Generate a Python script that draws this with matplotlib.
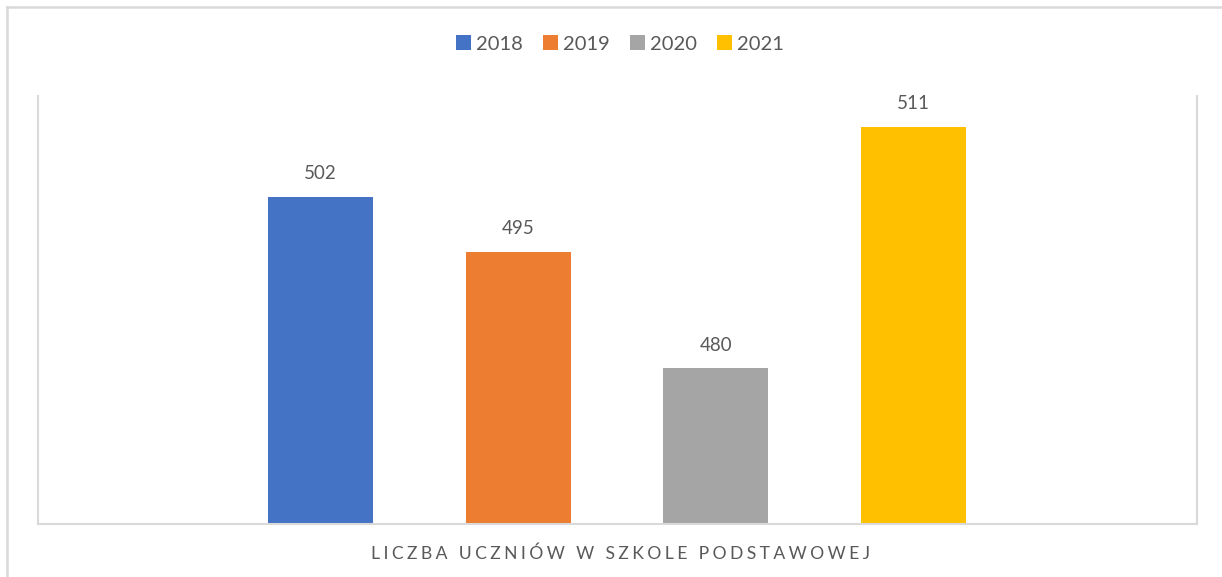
import numpy as np
import matplotlib.pyplot as plt
from matplotlib.lines import Line2D
from matplotlib.patches import Patch

years = ['2018', '2019', '2020', '2021']
students = [502, 495, 480, 511]
colors = ['#4472C4', '#ED7D31', '#A5A5A5', '#FFC000']
category = 'LICZBA UCZNIÓW W SZKOLE PODSTAWOWEJ'

plt.rcParams['font.family'] = ['Lato', 'DejaVu Sans']
text_color = '#595959'
grid_color = '#D9D9D9'

fig = plt.figure(figsize=(12.22, 5.77), dpi=100)
W, H = 1222, 577
ax = fig.add_axes([37.5 / W, (H - 524) / H, (1196.5 - 37.5) / W, (524 - 96) / H])

x = np.arange(len(years))
bars = ax.bar(x, students, width=0.53, color=colors)
for xi, v in zip(x, students):
    ax.text(xi, v + 1.9, str(v), ha='center', va='bottom', fontsize=13.5, color=text_color)

ax.set_xlim(-1.433, 4.433)
ax.set_ylim(460, 515)
ax.set_xticks([])
ax.set_yticks([])
for side in ['left', 'right', 'bottom']:
    ax.spines[side].set_color(grid_color)
    ax.spines[side].set_linewidth(1.5)
ax.spines['top'].set_visible(False)

# spaced-out category label like excel
spaced = '\u2009\u200a'.join(category)
ax.text(0.503, -0.07, spaced, transform=ax.transAxes, ha='center', va='center',
        fontsize=12.6, color=text_color)

handles = [Patch(facecolor=c, label=y) for c, y in zip(colors, years)]
fig.legend(handles=handles, loc='center', bbox_to_anchor=(0.5 + 9 / W, 1 - 44 / H), ncol=4,
           frameon=False, fontsize=14.5, labelcolor=text_color, handlelength=0.75,
           handleheight=0.75, handletextpad=0.25, columnspacing=1.0)

# outer chart border (top and left visible)
fig.add_artist(Line2D([7.5 / W, 1.0], [1 - 6.5 / H, 1 - 6.5 / H], transform=fig.transFigure,
                      color=grid_color, lw=1.8))
fig.add_artist(Line2D([7.5 / W, 7.5 / W], [0, 1 - 6.5 / H], transform=fig.transFigure,
                      color=grid_color, lw=1.8))

plt.savefig('out.png', dpi=100)
